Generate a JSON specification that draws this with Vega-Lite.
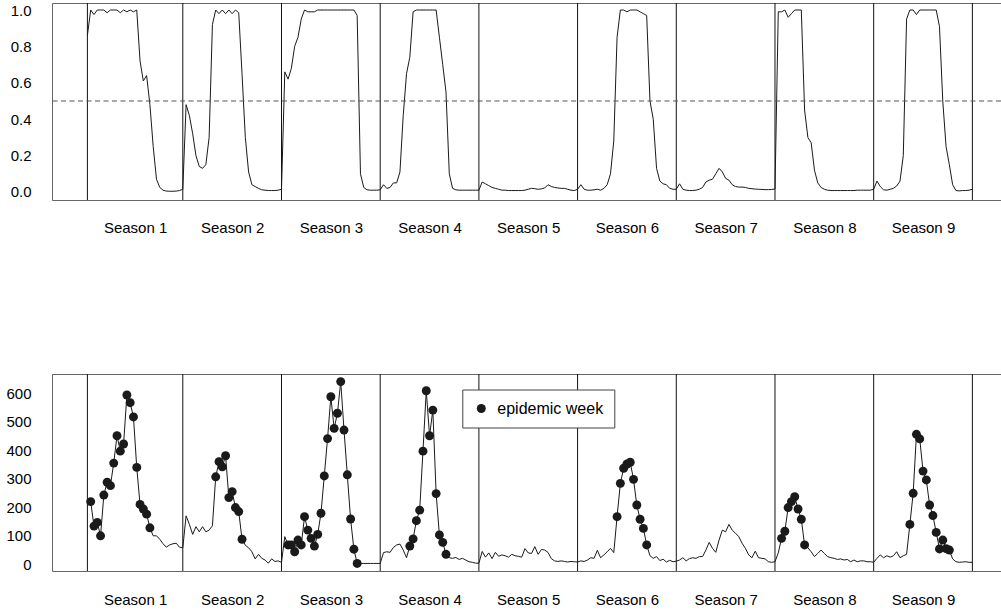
{
  "$schema": "https://vega.github.io/schema/vega-lite/v6.json",
  "padding": {"left": 5, "top": 2, "right": 0, "bottom": 0},
  "config": {
    "font": "Liberation Sans",
    "view": {"stroke": null},
    "axis": {"labelFont": "Liberation Sans", "labelColor": "#000", "labelFontSize": 15, "ticks": false, "grid": false, "domainColor": "#666", "domainWidth": 1, "labelOverlap": false}
  },
  "datasets": {
    "bounds": [{"week":0},{"week":29},{"week":59},{"week":89},{"week":119},{"week":149},{"week":179},{"week":209},{"week":239},{"week":269}],
    "weekly": [
      {"week":0,"prob":0.86,"cases":null,"epidemic":0},
      {"week":1,"prob":1.0,"cases":220,"epidemic":1},
      {"week":2,"prob":0.975,"cases":134,"epidemic":1},
      {"week":3,"prob":1.0,"cases":147,"epidemic":1},
      {"week":4,"prob":1.0,"cases":100,"epidemic":1},
      {"week":5,"prob":1.0,"cases":243,"epidemic":1},
      {"week":6,"prob":0.985,"cases":288,"epidemic":1},
      {"week":7,"prob":1.0,"cases":276,"epidemic":1},
      {"week":8,"prob":1.0,"cases":355,"epidemic":1},
      {"week":9,"prob":1.0,"cases":451,"epidemic":1},
      {"week":10,"prob":0.985,"cases":397,"epidemic":1},
      {"week":11,"prob":1.0,"cases":422,"epidemic":1},
      {"week":12,"prob":0.99,"cases":594,"epidemic":1},
      {"week":13,"prob":1.0,"cases":567,"epidemic":1},
      {"week":14,"prob":0.99,"cases":517,"epidemic":1},
      {"week":15,"prob":1.0,"cases":340,"epidemic":1},
      {"week":16,"prob":0.72,"cases":210,"epidemic":1},
      {"week":17,"prob":0.61,"cases":194,"epidemic":1},
      {"week":18,"prob":0.64,"cases":176,"epidemic":1},
      {"week":19,"prob":0.48,"cases":128,"epidemic":1},
      {"week":20,"prob":0.25,"cases":100,"epidemic":0},
      {"week":21,"prob":0.07,"cases":100,"epidemic":0},
      {"week":22,"prob":0.025,"cases":88,"epidemic":0},
      {"week":23,"prob":0.01,"cases":72,"epidemic":0},
      {"week":24,"prob":0.005,"cases":60,"epidemic":0},
      {"week":25,"prob":0.004,"cases":68,"epidemic":0},
      {"week":26,"prob":0.004,"cases":72,"epidemic":0},
      {"week":27,"prob":0.005,"cases":74,"epidemic":0},
      {"week":28,"prob":0.008,"cases":60,"epidemic":0},
      {"week":29,"prob":0.015,"cases":58,"epidemic":0},
      {"week":30,"prob":0.48,"cases":170,"epidemic":0},
      {"week":31,"prob":0.42,"cases":140,"epidemic":0},
      {"week":32,"prob":0.32,"cases":105,"epidemic":0},
      {"week":33,"prob":0.2,"cases":132,"epidemic":0},
      {"week":34,"prob":0.14,"cases":114,"epidemic":0},
      {"week":35,"prob":0.13,"cases":132,"epidemic":0},
      {"week":36,"prob":0.15,"cases":114,"epidemic":0},
      {"week":37,"prob":0.3,"cases":120,"epidemic":0},
      {"week":38,"prob":0.92,"cases":135,"epidemic":0},
      {"week":39,"prob":1.0,"cases":307,"epidemic":1},
      {"week":40,"prob":0.98,"cases":360,"epidemic":1},
      {"week":41,"prob":1.0,"cases":342,"epidemic":1},
      {"week":42,"prob":0.98,"cases":381,"epidemic":1},
      {"week":43,"prob":1.0,"cases":234,"epidemic":1},
      {"week":44,"prob":0.98,"cases":255,"epidemic":1},
      {"week":45,"prob":1.0,"cases":199,"epidemic":1},
      {"week":46,"prob":0.985,"cases":185,"epidemic":1},
      {"week":47,"prob":0.65,"cases":88,"epidemic":1},
      {"week":48,"prob":0.3,"cases":67,"epidemic":0},
      {"week":49,"prob":0.11,"cases":58,"epidemic":0},
      {"week":50,"prob":0.04,"cases":44,"epidemic":0},
      {"week":51,"prob":0.03,"cases":19,"epidemic":0},
      {"week":52,"prob":0.02,"cases":35,"epidemic":0},
      {"week":53,"prob":0.012,"cases":21,"epidemic":0},
      {"week":54,"prob":0.01,"cases":15,"epidemic":0},
      {"week":55,"prob":0.008,"cases":4,"epidemic":0},
      {"week":56,"prob":0.008,"cases":19,"epidemic":0},
      {"week":57,"prob":0.008,"cases":10,"epidemic":0},
      {"week":58,"prob":0.01,"cases":12,"epidemic":0},
      {"week":59,"prob":0.015,"cases":7,"epidemic":0},
      {"week":60,"prob":0.66,"cases":97,"epidemic":0},
      {"week":61,"prob":0.62,"cases":68,"epidemic":1},
      {"week":62,"prob":0.68,"cases":68,"epidemic":1},
      {"week":63,"prob":0.8,"cases":44,"epidemic":1},
      {"week":64,"prob":0.85,"cases":85,"epidemic":1},
      {"week":65,"prob":0.95,"cases":68,"epidemic":1},
      {"week":66,"prob":1.0,"cases":167,"epidemic":1},
      {"week":67,"prob":0.99,"cases":120,"epidemic":1},
      {"week":68,"prob":0.99,"cases":91,"epidemic":1},
      {"week":69,"prob":0.99,"cases":64,"epidemic":1},
      {"week":70,"prob":1.0,"cases":105,"epidemic":1},
      {"week":71,"prob":1.0,"cases":179,"epidemic":1},
      {"week":72,"prob":1.0,"cases":310,"epidemic":1},
      {"week":73,"prob":1.0,"cases":441,"epidemic":1},
      {"week":74,"prob":1.0,"cases":588,"epidemic":1},
      {"week":75,"prob":1.0,"cases":477,"epidemic":1},
      {"week":76,"prob":1.0,"cases":530,"epidemic":1},
      {"week":77,"prob":1.0,"cases":641,"epidemic":1},
      {"week":78,"prob":1.0,"cases":471,"epidemic":1},
      {"week":79,"prob":1.0,"cases":314,"epidemic":1},
      {"week":80,"prob":1.0,"cases":159,"epidemic":1},
      {"week":81,"prob":1.0,"cases":53,"epidemic":1},
      {"week":82,"prob":0.97,"cases":3,"epidemic":1},
      {"week":83,"prob":0.1,"cases":3,"epidemic":0},
      {"week":84,"prob":0.025,"cases":3,"epidemic":0},
      {"week":85,"prob":0.012,"cases":3,"epidemic":0},
      {"week":86,"prob":0.01,"cases":3,"epidemic":0},
      {"week":87,"prob":0.01,"cases":3,"epidemic":0},
      {"week":88,"prob":0.01,"cases":3,"epidemic":0},
      {"week":89,"prob":0.012,"cases":3,"epidemic":0},
      {"week":90,"prob":0.04,"cases":41,"epidemic":0},
      {"week":91,"prob":0.02,"cases":44,"epidemic":0},
      {"week":92,"prob":0.025,"cases":42,"epidemic":0},
      {"week":93,"prob":0.05,"cases":59,"epidemic":0},
      {"week":94,"prob":0.05,"cases":68,"epidemic":0},
      {"week":95,"prob":0.11,"cases":71,"epidemic":0},
      {"week":96,"prob":0.42,"cases":50,"epidemic":0},
      {"week":97,"prob":0.65,"cases":23,"epidemic":0},
      {"week":98,"prob":0.74,"cases":64,"epidemic":1},
      {"week":99,"prob":0.99,"cases":89,"epidemic":1},
      {"week":100,"prob":1.0,"cases":153,"epidemic":1},
      {"week":101,"prob":1.0,"cases":190,"epidemic":1},
      {"week":102,"prob":1.0,"cases":397,"epidemic":1},
      {"week":103,"prob":1.0,"cases":609,"epidemic":1},
      {"week":104,"prob":1.0,"cases":451,"epidemic":1},
      {"week":105,"prob":1.0,"cases":541,"epidemic":1},
      {"week":106,"prob":1.0,"cases":248,"epidemic":1},
      {"week":107,"prob":0.85,"cases":103,"epidemic":1},
      {"week":108,"prob":0.7,"cases":77,"epidemic":1},
      {"week":109,"prob":0.55,"cases":35,"epidemic":1},
      {"week":110,"prob":0.1,"cases":23,"epidemic":0},
      {"week":111,"prob":0.02,"cases":21,"epidemic":0},
      {"week":112,"prob":0.012,"cases":24,"epidemic":0},
      {"week":113,"prob":0.01,"cases":17,"epidemic":0},
      {"week":114,"prob":0.01,"cases":21,"epidemic":0},
      {"week":115,"prob":0.01,"cases":15,"epidemic":0},
      {"week":116,"prob":0.01,"cases":9,"epidemic":0},
      {"week":117,"prob":0.01,"cases":7,"epidemic":0},
      {"week":118,"prob":0.01,"cases":4,"epidemic":0},
      {"week":119,"prob":0.01,"cases":4,"epidemic":0},
      {"week":120,"prob":0.055,"cases":45,"epidemic":0},
      {"week":121,"prob":0.045,"cases":25,"epidemic":0},
      {"week":122,"prob":0.035,"cases":40,"epidemic":0},
      {"week":123,"prob":0.025,"cases":20,"epidemic":0},
      {"week":124,"prob":0.02,"cases":42,"epidemic":0},
      {"week":125,"prob":0.015,"cases":28,"epidemic":0},
      {"week":126,"prob":0.01,"cases":33,"epidemic":0},
      {"week":127,"prob":0.01,"cases":30,"epidemic":0},
      {"week":128,"prob":0.008,"cases":25,"epidemic":0},
      {"week":129,"prob":0.008,"cases":35,"epidemic":0},
      {"week":130,"prob":0.008,"cases":30,"epidemic":0},
      {"week":131,"prob":0.008,"cases":28,"epidemic":0},
      {"week":132,"prob":0.008,"cases":25,"epidemic":0},
      {"week":133,"prob":0.01,"cases":55,"epidemic":0},
      {"week":134,"prob":0.015,"cases":40,"epidemic":0},
      {"week":135,"prob":0.02,"cases":38,"epidemic":0},
      {"week":136,"prob":0.018,"cases":62,"epidemic":0},
      {"week":137,"prob":0.015,"cases":35,"epidemic":0},
      {"week":138,"prob":0.017,"cases":52,"epidemic":0},
      {"week":139,"prob":0.022,"cases":50,"epidemic":0},
      {"week":140,"prob":0.04,"cases":42,"epidemic":0},
      {"week":141,"prob":0.03,"cases":20,"epidemic":0},
      {"week":142,"prob":0.025,"cases":12,"epidemic":0},
      {"week":143,"prob":0.022,"cases":10,"epidemic":0},
      {"week":144,"prob":0.02,"cases":12,"epidemic":0},
      {"week":145,"prob":0.02,"cases":10,"epidemic":0},
      {"week":146,"prob":0.015,"cases":8,"epidemic":0},
      {"week":147,"prob":0.01,"cases":10,"epidemic":0},
      {"week":148,"prob":0.008,"cases":9,"epidemic":0},
      {"week":149,"prob":0.015,"cases":8,"epidemic":0},
      {"week":150,"prob":0.04,"cases":12,"epidemic":0},
      {"week":151,"prob":0.015,"cases":10,"epidemic":0},
      {"week":152,"prob":0.01,"cases":15,"epidemic":0},
      {"week":153,"prob":0.01,"cases":23,"epidemic":0},
      {"week":154,"prob":0.012,"cases":21,"epidemic":0},
      {"week":155,"prob":0.015,"cases":49,"epidemic":0},
      {"week":156,"prob":0.01,"cases":23,"epidemic":0},
      {"week":157,"prob":0.02,"cases":33,"epidemic":0},
      {"week":158,"prob":0.04,"cases":44,"epidemic":0},
      {"week":159,"prob":0.1,"cases":56,"epidemic":0},
      {"week":160,"prob":0.28,"cases":41,"epidemic":0},
      {"week":161,"prob":0.85,"cases":167,"epidemic":1},
      {"week":162,"prob":1.0,"cases":284,"epidemic":1},
      {"week":163,"prob":1.0,"cases":337,"epidemic":1},
      {"week":164,"prob":0.99,"cases":352,"epidemic":1},
      {"week":165,"prob":1.0,"cases":358,"epidemic":1},
      {"week":166,"prob":1.0,"cases":298,"epidemic":1},
      {"week":167,"prob":1.0,"cases":208,"epidemic":1},
      {"week":168,"prob":0.99,"cases":158,"epidemic":1},
      {"week":169,"prob":0.98,"cases":126,"epidemic":1},
      {"week":170,"prob":0.97,"cases":68,"epidemic":1},
      {"week":171,"prob":0.5,"cases":30,"epidemic":0},
      {"week":172,"prob":0.4,"cases":21,"epidemic":0},
      {"week":173,"prob":0.13,"cases":27,"epidemic":0},
      {"week":174,"prob":0.06,"cases":13,"epidemic":0},
      {"week":175,"prob":0.045,"cases":18,"epidemic":0},
      {"week":176,"prob":0.04,"cases":8,"epidemic":0},
      {"week":177,"prob":0.02,"cases":14,"epidemic":0},
      {"week":178,"prob":0.015,"cases":9,"epidemic":0},
      {"week":179,"prob":0.015,"cases":11,"epidemic":0},
      {"week":180,"prob":0.045,"cases":15,"epidemic":0},
      {"week":181,"prob":0.015,"cases":23,"epidemic":0},
      {"week":182,"prob":0.01,"cases":12,"epidemic":0},
      {"week":183,"prob":0.008,"cases":20,"epidemic":0},
      {"week":184,"prob":0.008,"cases":23,"epidemic":0},
      {"week":185,"prob":0.01,"cases":21,"epidemic":0},
      {"week":186,"prob":0.015,"cases":27,"epidemic":0},
      {"week":187,"prob":0.025,"cases":27,"epidemic":0},
      {"week":188,"prob":0.055,"cases":50,"epidemic":0},
      {"week":189,"prob":0.065,"cases":77,"epidemic":0},
      {"week":190,"prob":0.07,"cases":56,"epidemic":0},
      {"week":191,"prob":0.1,"cases":42,"epidemic":0},
      {"week":192,"prob":0.13,"cases":85,"epidemic":0},
      {"week":193,"prob":0.11,"cases":120,"epidemic":0},
      {"week":194,"prob":0.075,"cases":114,"epidemic":0},
      {"week":195,"prob":0.065,"cases":140,"epidemic":0},
      {"week":196,"prob":0.04,"cases":120,"epidemic":0},
      {"week":197,"prob":0.03,"cases":109,"epidemic":0},
      {"week":198,"prob":0.027,"cases":97,"epidemic":0},
      {"week":199,"prob":0.027,"cases":74,"epidemic":0},
      {"week":200,"prob":0.025,"cases":56,"epidemic":0},
      {"week":201,"prob":0.02,"cases":33,"epidemic":0},
      {"week":202,"prob":0.018,"cases":23,"epidemic":0},
      {"week":203,"prob":0.016,"cases":46,"epidemic":0},
      {"week":204,"prob":0.015,"cases":23,"epidemic":0},
      {"week":205,"prob":0.014,"cases":21,"epidemic":0},
      {"week":206,"prob":0.013,"cases":19,"epidemic":0},
      {"week":207,"prob":0.013,"cases":9,"epidemic":0},
      {"week":208,"prob":0.014,"cases":7,"epidemic":0},
      {"week":209,"prob":0.016,"cases":9,"epidemic":0},
      {"week":210,"prob":0.99,"cases":40,"epidemic":0},
      {"week":211,"prob":0.99,"cases":91,"epidemic":1},
      {"week":212,"prob":1.0,"cases":116,"epidemic":1},
      {"week":213,"prob":0.96,"cases":199,"epidemic":1},
      {"week":214,"prob":0.98,"cases":220,"epidemic":1},
      {"week":215,"prob":1.0,"cases":237,"epidemic":1},
      {"week":216,"prob":1.0,"cases":194,"epidemic":1},
      {"week":217,"prob":1.0,"cases":158,"epidemic":1},
      {"week":218,"prob":0.45,"cases":68,"epidemic":1},
      {"week":219,"prob":0.3,"cases":58,"epidemic":0},
      {"week":220,"prob":0.27,"cases":44,"epidemic":0},
      {"week":221,"prob":0.12,"cases":27,"epidemic":0},
      {"week":222,"prob":0.05,"cases":38,"epidemic":0},
      {"week":223,"prob":0.025,"cases":50,"epidemic":0},
      {"week":224,"prob":0.015,"cases":38,"epidemic":0},
      {"week":225,"prob":0.01,"cases":27,"epidemic":0},
      {"week":226,"prob":0.008,"cases":23,"epidemic":0},
      {"week":227,"prob":0.008,"cases":21,"epidemic":0},
      {"week":228,"prob":0.008,"cases":17,"epidemic":0},
      {"week":229,"prob":0.008,"cases":19,"epidemic":0},
      {"week":230,"prob":0.008,"cases":15,"epidemic":0},
      {"week":231,"prob":0.008,"cases":17,"epidemic":0},
      {"week":232,"prob":0.008,"cases":9,"epidemic":0},
      {"week":233,"prob":0.008,"cases":15,"epidemic":0},
      {"week":234,"prob":0.01,"cases":9,"epidemic":0},
      {"week":235,"prob":0.01,"cases":12,"epidemic":0},
      {"week":236,"prob":0.01,"cases":12,"epidemic":0},
      {"week":237,"prob":0.01,"cases":9,"epidemic":0},
      {"week":238,"prob":0.01,"cases":9,"epidemic":0},
      {"week":239,"prob":0.015,"cases":7,"epidemic":0},
      {"week":240,"prob":0.06,"cases":21,"epidemic":0},
      {"week":241,"prob":0.03,"cases":33,"epidemic":0},
      {"week":242,"prob":0.012,"cases":23,"epidemic":0},
      {"week":243,"prob":0.01,"cases":30,"epidemic":0},
      {"week":244,"prob":0.015,"cases":25,"epidemic":0},
      {"week":245,"prob":0.02,"cases":30,"epidemic":0},
      {"week":246,"prob":0.033,"cases":44,"epidemic":0},
      {"week":247,"prob":0.06,"cases":23,"epidemic":0},
      {"week":248,"prob":0.2,"cases":30,"epidemic":0},
      {"week":249,"prob":0.95,"cases":35,"epidemic":0},
      {"week":250,"prob":1.0,"cases":140,"epidemic":1},
      {"week":251,"prob":1.0,"cases":249,"epidemic":1},
      {"week":252,"prob":0.975,"cases":456,"epidemic":1},
      {"week":253,"prob":1.0,"cases":440,"epidemic":1},
      {"week":254,"prob":1.0,"cases":327,"epidemic":1},
      {"week":255,"prob":1.0,"cases":296,"epidemic":1},
      {"week":256,"prob":1.0,"cases":208,"epidemic":1},
      {"week":257,"prob":1.0,"cases":171,"epidemic":1},
      {"week":258,"prob":1.0,"cases":112,"epidemic":1},
      {"week":259,"prob":0.91,"cases":54,"epidemic":1},
      {"week":260,"prob":0.5,"cases":85,"epidemic":1},
      {"week":261,"prob":0.25,"cases":55,"epidemic":1},
      {"week":262,"prob":0.15,"cases":50,"epidemic":1},
      {"week":263,"prob":0.04,"cases":19,"epidemic":0},
      {"week":264,"prob":0.008,"cases":9,"epidemic":0},
      {"week":265,"prob":0.006,"cases":7,"epidemic":0},
      {"week":266,"prob":0.008,"cases":8,"epidemic":0},
      {"week":267,"prob":0.008,"cases":9,"epidemic":0},
      {"week":268,"prob":0.01,"cases":7,"epidemic":0},
      {"week":269,"prob":0.015,"cases":7,"epidemic":0}
    ]
  },
  "spacing": 133,
  "vconcat": [
    {
      "width": 949,
      "height": 197,
      "resolve": {"axis": {"x": "independent"}},
      "layer": [
        {
          "data": {"name": "bounds"},
          "mark": {"type": "rule", "color": "#111", "strokeWidth": 1},
          "encoding": {
            "x": {"field": "week", "type": "quantitative", "title": null,
              "scale": {"domain": [-10.76, 277.7], "nice": false, "zero": false},
              "axis": {"orient": "bottom", "values": [14.5, 44, 74, 104, 134, 164, 194, 224, 254],
                "labelExpr": "'Season ' + round((datum.value + 16) / 30)",
                "labelPadding": 20, "labelFlush": false, "labelOverlap": false,
                "minExtent": 40, "maxExtent": 40}}
          }
        },
        {
          "data": {"name": "weekly"},
          "mark": {"type": "line", "color": "#1a1a1a", "strokeWidth": 1},
          "encoding": {
            "x": {"field": "week", "type": "quantitative", "title": null,
              "axis": {"orient": "top", "labels": false, "minExtent": 0, "maxExtent": 0}},
            "y": {"field": "prob", "type": "quantitative", "title": null,
              "scale": {"domain": [-0.044, 1.0385], "nice": false, "zero": false},
              "axis": {"values": [0, 0.2, 0.4, 0.6, 0.8, 1.0], "format": ".1f", "labelPadding": 21, "labelOverlap": false, "labelBound": false, "minExtent": 47, "maxExtent": 47}}
          }
        },
        {
          "data": {"values": [{"level": 0.5}]},
          "mark": {"type": "rule", "color": "#555", "strokeWidth": 1, "strokeDash": [5, 3.5]},
          "encoding": {"y": {"field": "level", "type": "quantitative", "title": null,
            "axis": {"values": [0, 0.2, 0.4, 0.6, 0.8, 1.0], "format": ".1f", "labelPadding": 21, "labelOverlap": false, "labelBound": false, "minExtent": 47, "maxExtent": 47}}}
        }
      ]
    },
    {
      "width": 949,
      "height": 197,
      "resolve": {"axis": {"x": "independent"}},
      "layer": [
        {
          "data": {"name": "bounds"},
          "mark": {"type": "rule", "color": "#111", "strokeWidth": 1},
          "encoding": {
            "x": {"field": "week", "type": "quantitative", "title": null,
              "scale": {"domain": [-10.76, 277.7], "nice": false, "zero": false},
              "axis": {"orient": "bottom", "values": [14.5, 44, 74, 104, 134, 164, 194, 224, 254],
                "labelExpr": "'Season ' + round((datum.value + 16) / 30)",
                "labelPadding": 21, "labelFlush": false, "labelOverlap": false,
                "minExtent": 40, "maxExtent": 40}}
          }
        },
        {
          "data": {"name": "weekly"},
          "mark": {"type": "line", "color": "#1a1a1a", "strokeWidth": 1},
          "encoding": {
            "x": {"field": "week", "type": "quantitative", "title": null,
              "axis": {"orient": "top", "labels": false, "minExtent": 0, "maxExtent": 0}},
            "y": {"field": "cases", "type": "quantitative", "title": null,
              "scale": {"domain": [-23.5, 667.7], "nice": false, "zero": false},
              "axis": {"values": [0, 100, 200, 300, 400, 500, 600], "labelPadding": 21, "labelOverlap": false, "labelBound": false, "minExtent": 47, "maxExtent": 47}}
          }
        },
        {
          "data": {"name": "weekly"},
          "transform": [{"filter": "datum.epidemic == 1"}],
          "mark": {"type": "point", "filled": true, "color": "#1a1a1a", "opacity": 1, "size": 80},
          "encoding": {
            "x": {"field": "week", "type": "quantitative", "title": null,
              "axis": {"orient": "top", "labels": false, "minExtent": 0, "maxExtent": 0}},
            "y": {"field": "cases", "type": "quantitative", "title": null,
              "axis": {"values": [0, 100, 200, 300, 400, 500, 600], "labelPadding": 21, "labelOverlap": false, "labelBound": false, "minExtent": 47, "maxExtent": 47}},
            "shape": {"datum": "epidemic week", "type": "nominal",
              "scale": {"range": ["circle"]},
              "legend": {"orient": "none", "legendX": 410.3, "legendY": 386.5, "title": null,
                "strokeColor": "#444", "fillColor": "#fff", "padding": 11,
                "labelFontSize": 16, "labelFont": "Liberation Sans", "labelColor": "#000", "labelOffset": 8,
                "symbolSize": 81, "symbolType": "circle", "symbolFillColor": "#1a1a1a", "symbolStrokeColor": "#1a1a1a", "symbolStrokeWidth": 0}}
          }
        }
      ]
    }
  ]
}
